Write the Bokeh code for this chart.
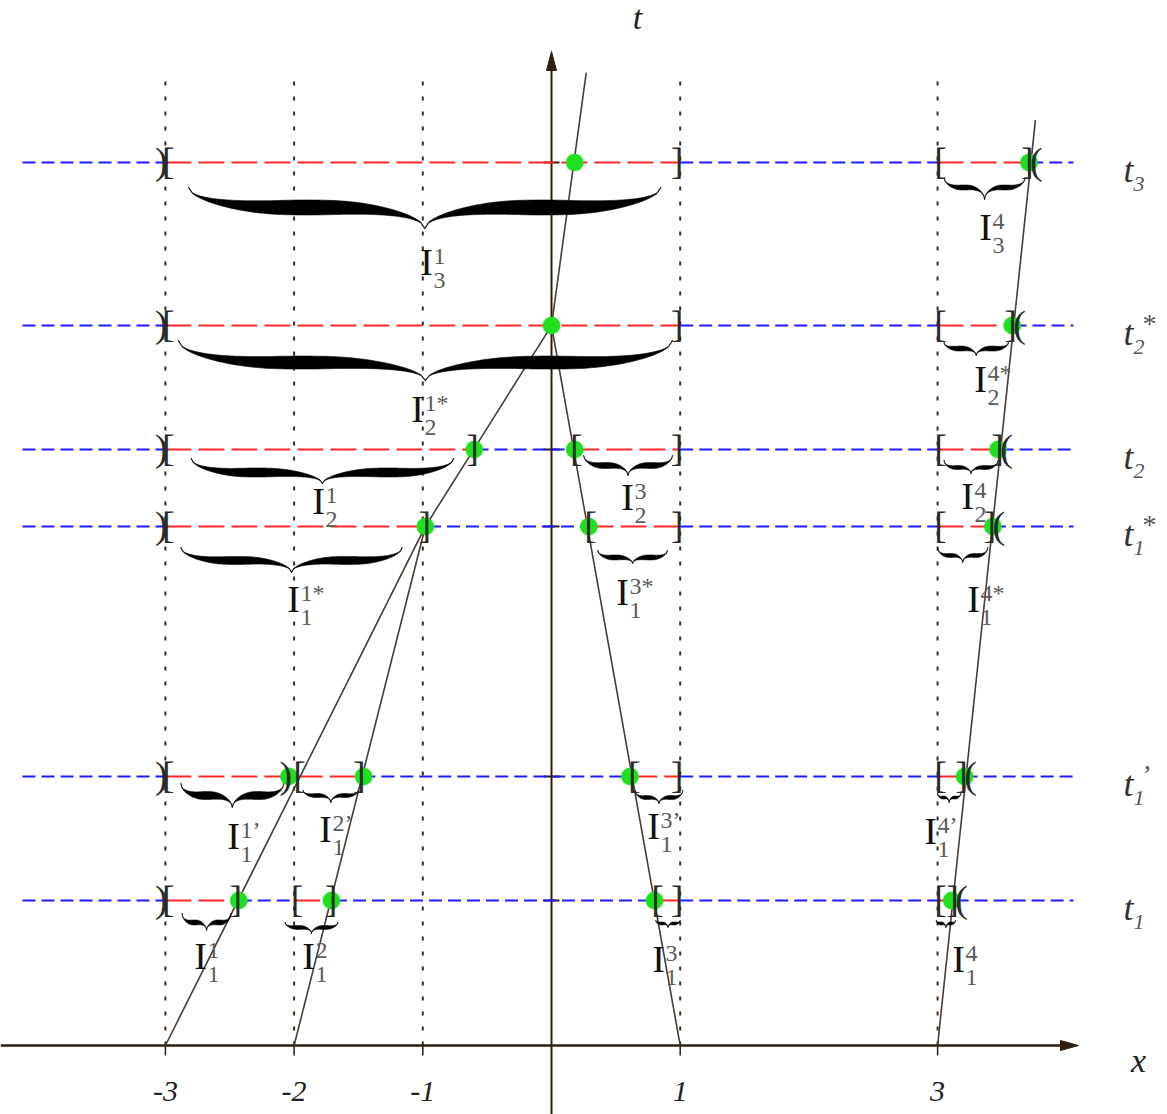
import numpy as np
from bokeh.plotting import figure
from bokeh.models import Range1d
from bokeh.embed import file_html
from bokeh.resources import INLINE
from bokeh.core.properties import value

# ---------------- data ----------------
# time levels (rows), bottom to top
row_t = [1.127, 2.090, 4.033, 4.631, 5.594, 6.861]
row_sub = ["1", "1", "1", "2", "2", "3"]
row_mark = ["", "\u2019", "*", "", "*", ""]

x_ticks = [-3, -2, -1, 1, 3]
x_tick_labels = ["-3", "-2", "-1", "1", "3"]

# intervals: row index, left end, right end, right bracket symbol
int_row = [0, 0, 0, 0, 1, 1, 1, 1, 2, 2, 2, 3, 3, 3, 4, 4, 5, 5]
int_a = [-3, -2.00, 0.80, 3, -3, -1.98, 0.62, 3, -3, 0.28, 3, -3, 0.17, 3, -3, 3, -3, 3]
int_b = [-2.43, -1.69, 1, 3.14, -2.04, -1.47, 1, 3.21, -0.96, 1, 3.43, -0.59, 1, 3.49, 1, 3.59, 1, 3.72]
int_close = ["]", "]", "]", "]", ")", "]", "]", "]", "]", "]", "]", "]", "]", "]", "]", "]", "]", "]"]

# green points on the rows
dot_row = [0, 0, 0, 0, 1, 1, 1, 1, 2, 2, 2, 3, 3, 3, 4, 4, 5, 5]
dot_x = [-2.43, -1.71, 0.80, 3.11, -2.04, -1.46, 0.61, 3.21, -0.98, 0.29, 3.43, -0.60, 0.18, 3.47, 0.0, 3.58, 0.18, 3.71]

# characteristic lines (polyline pieces)
t1s, t2s = row_t[2], row_t[4]
char_x = [[-3, -0.98], [-2, -0.98], [-0.98, 0], [1, 0], [0, 0.27], [3, 3.76]]
char_t = [[0, t1s], [0, t1s], [t1s, t2s], [0, t2s], [t2s, 7.56], [0, 7.19]]

# braces under intervals: row, x extent, label super/subscripts
brace_row = [5, 5, 4, 4, 3, 3, 3, 2, 2, 2, 1, 1, 1, 1, 0, 0, 0, 0]
brace_x0 = [-2.82, 3.05, -2.90, 3.05, -2.80, 0.25, 3.05, -2.88, 0.36, 3.00, -2.88, -1.93, 0.65, 3.00, -2.87, -2.07, 0.81, 2.99]
brace_x1 = [0.85, 3.68, 0.94, 3.55, -0.76, 0.94, 3.47, -1.16, 0.90, 3.39, -2.08, -1.50, 1.02, 3.18, -2.49, -1.66, 1.00, 3.14]
label_sup = ["1", "4", "1*", "4*", "1", "3", "4", "1*", "3*", "4*",
             "1\u2019", "2\u2019", "3\u2019", "4\u2019", "1", "2", "3", "4"]
label_sub = ["3", "3", "2", "2", "2", "2", "2", "1", "1", "1", "1", "1", "1", "1", "1", "1", "1", "1"]

# ---------------- layout / style (pixels) ----------------
S = 128.7          # pixels per unit
def X(px): return (px - 551) / S
def T(py): return (1045 - py) / S
SH = 0.3           # baseline correction, fraction of font size

def up(fs):
    return SH * fs / S

brace_off = [25, 15, 15, 17, 9, 6, 11, 21, 24, 21, 7, 14, 14, 17, 13, 22, 20, 20]
brace_h1 = [20, 10, 22, 6, 14, 10, 7, 13, 7, 8, 12, 5, 7, 4, 9, 5, 3, 3]
brace_h2 = [21, 12, 18, 7, 11, 10, 6, 12, 6, 7, 12, 7, 6, 5, 8, 6, 4, 4]
brace_w = [15, 5, 13, 5, 9, 6, 4, 8, 5, 4, 8, 4, 4, 3, 5, 4, 3, 3]
lab_px = [426, 985, 417, 980, 318, 627, 967, 293, 622, 973, 233, 325, 653, 930, 200, 308, 658, 958]
lab_py = [273, 238, 420, 390, 512, 508, 507, 610, 603, 610, 847, 840, 837, 842, 967, 967, 970, 970]

RED = "#ff2626"
BLUE = "#1c1cff"
GREEN = "#1fe01f"
LINEC = "#4a3c34"
AXC = "#2e1e10"
SERIF = value("Liberation Serif")

W, H = 1167, 1114
p = figure(width=W, height=H, output_backend="svg", toolbar_location=None,
           x_range=Range1d(X(0), X(W)), y_range=Range1d(T(H), T(0)),
           x_axis_type=None, y_axis_type=None, min_border=0)
p.grid.visible = False
p.outline_line_color = None
p.background_fill_color = "white"

# vertical dotted guide lines
p.multi_line(xs=[[x, x] for x in x_ticks], ys=[[0, T(75)] for _ in x_ticks],
             line_color="#3a2a1c", line_width=2, line_dash="4 11")

# axes
p.line(x=[X(0), X(1062)], y=[0, 0], line_color=AXC, line_width=2.5)
p.patch(x=[X(1060), X(1078), X(1060)], y=[T(1040), 0, T(1050)], color=AXC)
p.line(x=[0, 0], y=[T(1114), T(66)], line_color=AXC, line_width=2)
p.patch(x=[X(546), 0, X(556)], y=[T(70), T(51), T(70)], color=AXC)
# ticks
p.multi_line(xs=[[x, x] for x in x_ticks], ys=[[0, T(1055)] for _ in x_ticks],
             line_color=AXC, line_width=1.5)
p.multi_line(xs=[[X(543), X(559)] for _ in row_t], ys=[[t, t] for t in row_t],
             line_color=AXC, line_width=2)

# rows: blue outside intervals, red inside
XL, XR = X(22), X(1073)
blue_xs, blue_ys, red_xs, red_ys = [], [], [], []
for r, t in enumerate(row_t):
    segs = sorted([(a, b) for rr, a, b in zip(int_row, int_a, int_b) if rr == r])
    cur = XL
    for a, b in segs:
        blue_xs.append([cur, a]); blue_ys.append([t, t])
        red_xs.append([a, b]); red_ys.append([t, t])
        cur = b
    blue_xs.append([cur, XR]); blue_ys.append([t, t])
p.multi_line(xs=blue_xs, ys=blue_ys, line_color=BLUE, line_width=2, line_dash="13 6")
p.multi_line(xs=red_xs, ys=red_ys, line_color=RED, line_width=2, line_dash="26 7")

# characteristic lines
p.multi_line(xs=char_x, ys=char_t, line_color=LINEC, line_width=1.6)

# braces
def brace_poly(x0, x1, t_row, off, h1, h2, tmax, n=60):
    xm = 0.5 * (x0 + x1)
    a = 0.4
    xs, yt, yb = [], [], []
    for half in range(2):
        for i in range(n + 1):
            s = i / n
            if half == 0:
                x = x0 + (xm - x0) * s; ss = s
            else:
                x = xm + (x1 - xm) * s; ss = 1 - s
            if ss < a:
                u = ss / a; f = h1 * np.sqrt(max(0.0, 1 - (1 - u) ** 2))
            elif ss <= 1 - a:
                f = h1
            else:
                u = (ss - (1 - a)) / a; f = h1 + h2 * (1 - np.sqrt(max(0.0, 1 - u ** 2)))
            th = max(0.9, tmax * np.sin(np.pi * ss))
            c = off + f
            xs.append(x)
            yt.append(t_row - (c - th / 2) / S)
            yb.append(t_row - (c + th / 2) / S)
    return xs + xs[::-1], yt + yb[::-1]

bxs, bys = [], []
for i in range(len(brace_row)):
    xx, yy = brace_poly(brace_x0[i], brace_x1[i], row_t[brace_row[i]],
                        brace_off[i], brace_h1[i], brace_h2[i], brace_w[i])
    bxs.append(xx); bys.append(yy)
p.patches(xs=bxs, ys=bys, fill_color="black", line_color="black", line_width=0.6)

# green points
p.scatter(x=dot_x, y=[row_t[r] for r in dot_row], size=17, fill_color=GREEN,
          line_color=GREEN, line_alpha=0.5, line_width=1.5)

# brackets
BFS = 38
BOFF = 0.25 * BFS
bx, by, bt = [], [], []
for r, a, b, cl in zip(int_row, int_a, int_b, int_close):
    t = row_t[r] - BOFF / S + up(BFS)
    bx.append(a + 3 / S); by.append(t); bt.append("[")
    bx.append(b - 3 / S); by.append(t); bt.append(cl)
    if a == -3:
        bx.append(a - 4 / S); by.append(t); bt.append(")")
    if a == 3:
        bx.append(b + 6 / S); by.append(t); bt.append("(")
p.text(x=bx, y=by, text=bt, text_font=SERIF, text_font_size=f"{BFS}px",
       text_align="center", text_baseline="alphabetic", text_color="#2a2a2a")

# interval labels
lx = [X(v) for v in lab_px]
ly = [T(v) for v in lab_py]
p.text(x=lx, y=[v + up(38) for v in ly], text=["I"] * len(lx), text_font=SERIF,
       text_font_size="38px", text_align="center", text_baseline="alphabetic",
       text_color="#111111")
p.text(x=[v + 7 / S for v in lx], y=[v + 10 / S + up(24) for v in ly], text=label_sup,
       text_font=SERIF, text_font_size="24px", text_align="left",
       text_baseline="alphabetic", text_color="#5a5a5a")
p.text(x=[v + 7 / S for v in lx], y=[v - 14 / S + up(24) for v in ly], text=label_sub,
       text_font=SERIF, text_font_size="24px", text_align="left",
       text_baseline="alphabetic", text_color="#5a5a5a")

# row labels on the right
p.text(x=[X(1128)] * len(row_t), y=[t - 18 / S + up(36) for t in row_t], text=["t"] * len(row_t),
       text_font=SERIF, text_font_size="36px", text_font_style="italic",
       text_align="center", text_baseline="alphabetic", text_color="#333333")
p.text(x=[X(1133)] * len(row_t), y=[t - 28 / S + up(22) for t in row_t], text=row_sub,
       text_font=SERIF, text_font_size="22px", text_font_style="italic",
       text_align="left", text_baseline="alphabetic", text_color="#555555")
p.text(x=[X(1142)] * len(row_t), y=[t - 6 / S + up(28) for t in row_t], text=row_mark,
       text_font=SERIF, text_font_size="28px",
       text_align="left", text_baseline="alphabetic", text_color="#555555")

# tick labels and axis names
p.text(x=x_ticks, y=[T(1100) + up(30)] * len(x_ticks), text=x_tick_labels, text_font=SERIF,
       text_font_size="30px", text_font_style="italic", text_align="center",
       text_baseline="alphabetic", text_color="#222222")
p.text(x=[X(637), X(1138)], y=[T(27) + up(34), T(1070) + up(34)], text=["t", "x"],
       text_font=SERIF, text_font_size="34px", text_font_style="italic",
       text_align="center", text_baseline="alphabetic", text_color="#222222")

open("out.html", "w").write(file_html(p, INLINE))
